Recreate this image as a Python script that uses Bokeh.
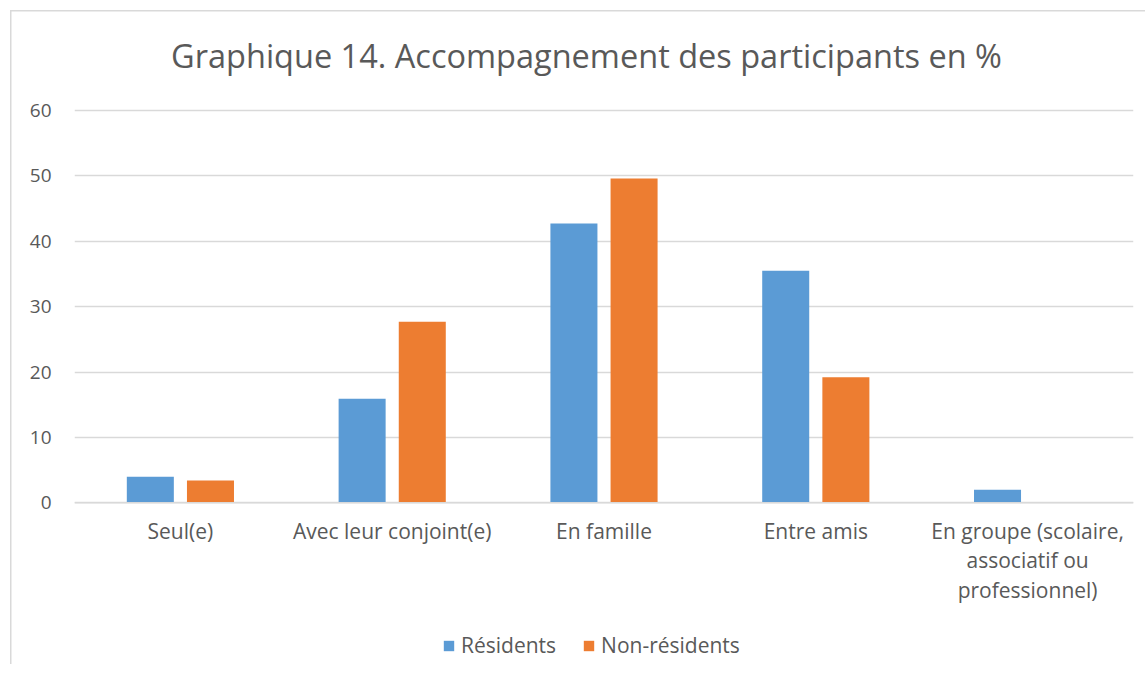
import numpy as np
from bokeh.plotting import figure
from bokeh.models import (ColumnDataSource, Legend, LegendItem, Range1d,
                          FixedTicker, Span, Label)
from bokeh.core.properties import value
from bokeh.embed import file_html
from bokeh.resources import INLINE

categories = ["Seul(e)", "Avec leur conjoint(e)", "En famille", "Entre amis",
              "En groupe (scolaire,\nassociatif ou\nprofessionnel)"]
residents = [4.0, 15.9, 42.7, 35.5, 2.0]
non_residents = [3.4, 27.7, 49.6, 19.2, 0.0]
y_ticks = [0, 10, 20, 30, 40, 50, 60]

title = "Graphique 14. Accompagnement des participants en %"
FONT = "Open Sans"
GREY = "#595959"

# layout (pixels)
FRAME_W = 1059
PX_PER_UNIT = 392.3 / 60          # vertical scale of the value axis
TOP_PX = 90                        # room above the 60 line (title area)
BOTTOM_PX = 161.7                  # room below the 0 line (labels + legend)
FRAME_H = 644

positions = np.arange(1, len(categories) + 1)
y_top = max(y_ticks) + TOP_PX / PX_PER_UNIT
y_bottom = -BOTTOM_PX / PX_PER_UNIT

src = ColumnDataSource(dict(x_res=positions - 0.142, x_nres=positions + 0.142,
                            res=residents, nres=non_residents))
lab_src = ColumnDataSource(dict(x=positions, y=[0] * len(categories), text=categories))

p = figure(frame_width=FRAME_W, frame_height=FRAME_H,
           x_range=Range1d(0.5, len(categories) + 0.5),
           y_range=Range1d(y_bottom, y_top), x_axis_type=None,
           output_backend="svg", toolbar_location=None,
           min_border_left=64, min_border_right=12, min_border_top=10,
           min_border_bottom=0)
p.margin = (10, 0, 0, 10)
p.styles = {"box-shadow": "inset 1.5px 1.5px 0 #D9D9D9"}
p.border_fill_alpha = 0
p.outline_line_color = None

r1 = p.vbar(x="x_res", top="res", width=0.222, source=src, color="#5B9BD5", line_color=None)
r2 = p.vbar(x="x_nres", top="nres", width=0.222, source=src, color="#ED7D31", line_color=None)

p.ygrid.ticker = FixedTicker(ticks=y_ticks)
p.ygrid.grid_line_color = "#D9D9D9"
p.ygrid.grid_line_width = 1.3

p.yaxis.ticker = FixedTicker(ticks=y_ticks, minor_ticks=[])
p.yaxis.axis_line_color = None
p.yaxis.major_tick_line_color = None
p.yaxis.minor_tick_line_color = None
p.yaxis.major_label_standoff = 17
p.yaxis.major_label_text_font = FONT
p.yaxis.major_label_text_font_size = "19px"
p.yaxis.major_label_text_color = GREY

# category axis line and labels
p.add_layout(Span(location=0, dimension="width", line_color="#D9D9D9", line_width=1.5))
p.text(x="x", y="y", text="text", source=lab_src, text_align="center",
       text_baseline="top", y_offset=14, text_font=value(FONT),
       text_font_size="21px", text_color=GREY, text_line_height=1.06)

# title
title_x = 0.5 + (586 - 74) / (FRAME_W / len(categories))
title_y = max(y_ticks) + 55 / PX_PER_UNIT
p.add_layout(Label(x=title_x, y=title_y, text=title, text_align="center",
                   text_baseline="middle", text_font=FONT, text_font_size="32.5px",
                   text_color=GREY))

legend = Legend(items=[LegendItem(label="Résidents", renderers=[r1]),
                       LegendItem(label="Non-résidents", renderers=[r2])],
                orientation="horizontal", location=(368, 5),
                label_text_font=FONT, label_text_font_size="21px",
                label_text_color=GREY, glyph_width=13, glyph_height=13,
                spacing=26, label_standoff=6, border_line_color=None,
                background_fill_alpha=0, padding=0, margin=0)
p.add_layout(legend, "center")

open("out.html", "w").write(file_html(p, INLINE))
